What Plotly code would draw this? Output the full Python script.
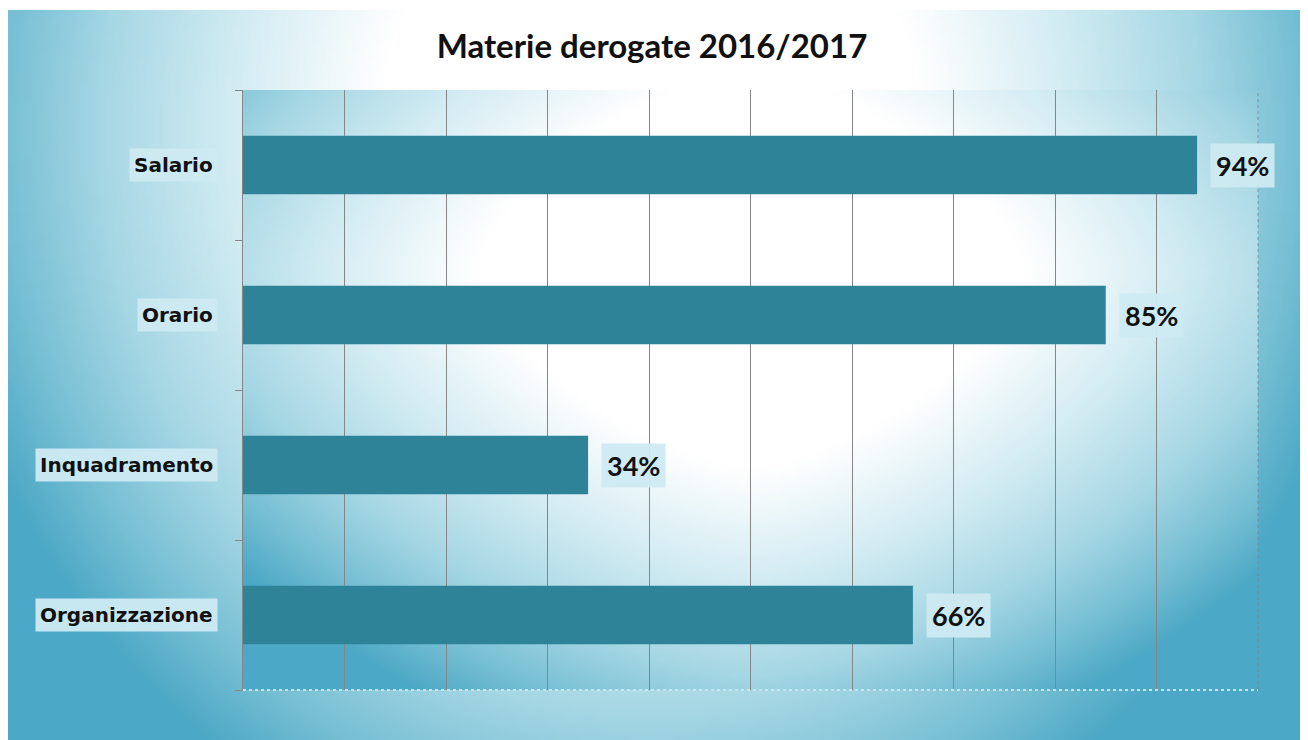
import base64, struct, zlib
import numpy as np
import plotly.graph_objects as go

# ---- data ----
categories = ["Salario", "Orario", "Inquadramento", "Organizzazione"]
values = [94, 85, 34, 66]
value_labels = ["94%", "85%", "34%", "66%"]
title_text = "Materie derogate 2016/2017"

# ---- gradient background helper (styling only) ----
def png_data_uri(rgb):
    h, w, _ = rgb.shape
    raw = b"".join(b"\x00" + rgb[i].astype(np.uint8).tobytes() for i in range(h))
    def chunk(tag, data):
        c = struct.pack(">I", len(data)) + tag + data
        return c + struct.pack(">I", zlib.crc32(tag + data) & 0xffffffff)
    png = b"\x89PNG\r\n\x1a\n" + chunk(b"IHDR", struct.pack(">IIBBBBB", w, h, 8, 2, 0, 0, 0)) \
        + chunk(b"IDAT", zlib.compress(raw, 9)) + chunk(b"IEND", b"")
    return "data:image/png;base64," + base64.b64encode(png).decode()

stop_t = [0.0, 0.42, 0.65, 0.85, 1.0, 1.12]
stop_c = [(255, 255, 255), (255, 255, 255), (210, 236, 243), (165, 215, 228), (118, 191, 212), (75, 168, 198)]

def gradient(w, h, cx, cy, rx, ry, p):
    u = (np.arange(w) + 0.5) / w
    v = (np.arange(h) + 0.5) / h
    U, V = np.meshgrid(u, v)
    t = (np.abs((U - cx) / rx) ** p + np.abs((V - cy) / ry) ** p) ** (1 / p)
    out = np.zeros((h, w, 3))
    for k in range(3):
        out[..., k] = np.interp(t, stop_t, [c[k] for c in stop_c])
    return np.clip(out, 0, 255)

W, H = 1308, 740
L, R, T, B = 235, 58, 82, 58
pw, ph = W - L - R, H - T - B

# chart area: pixel box (0..1294, 2..740)
cw, ch = 1294, 738
bg_chart = png_data_uri(gradient(324, 185, 643 / cw, 120 / ch, 650 / cw, 690 / ch, 2.0))
bg_plot = png_data_uri(gradient(254, 150, 0.5, 0.3, 0.65, 0.8, 1.5))

fig = go.Figure()
fig.add_trace(go.Bar(
    y=categories, x=values, orientation="h",
    marker=dict(color="#2E8399", line=dict(width=0)),
    hoverinfo="skip",
))

annotations = []
for c, v, lab in zip(categories, values, value_labels):
    annotations.append(dict(
        x=v, y=c, xref="x", yref="y", text=lab, showarrow=False,
        xanchor="left", xshift=13,
        font=dict(family="Lato", size=27, color="#111111", weight="bold"),
        bgcolor="rgba(205,234,242,0.95)", borderpad=5,
    ))
    annotations.append(dict(
        x=0, y=c, xref="paper", yref="y", text=c, showarrow=False,
        xanchor="right", xshift=-25,
        font=dict(family="DejaVu Sans", size=20, color="#111111", weight="bold"),
        bgcolor="rgba(205,234,242,0.95)", borderpad=4,
    ))

fig.update_layout(
    width=W, height=H,
    margin=dict(l=L, r=R, t=T, b=B),
    paper_bgcolor="white",
    plot_bgcolor="rgba(0,0,0,0)",
    showlegend=False,
    bargap=0.61,
    title=dict(text=title_text, x=(652 - 8) / W, xanchor="center", y=1 - 38 / H, yanchor="middle",
               font=dict(family="Lato", size=33, color="#111111", weight="bold")),
    xaxis=dict(range=[0, 100], dtick=10, showgrid=True, gridcolor="#868686", gridwidth=1,
               showticklabels=False, zeroline=False, showline=False, ticks=""),
    yaxis=dict(categoryorder="array", categoryarray=categories[::-1],
               showticklabels=False, showline=True, linecolor="#868686", linewidth=1,
               ticks="outside", ticklen=7, tickcolor="#868686", tickson="boundaries",
               showgrid=False, zeroline=False),
    annotations=annotations,
    images=[
        dict(source=bg_chart, xref="paper", yref="paper",
             x=(0 - L) / pw, y=(H - B - 2) / ph, sizex=cw / pw, sizey=ch / ph,
             xanchor="left", yanchor="top", sizing="stretch", layer="below"),
        dict(source=bg_plot, xref="paper", yref="paper",
             x=0, y=1, sizex=1, sizey=1,
             xanchor="left", yanchor="top", sizing="stretch", layer="below"),
    ],
    shapes=[
        dict(type="line", xref="paper", yref="paper", x0=0, x1=1, y0=0, y1=0,
             line=dict(color="rgba(205,230,238,0.95)", width=2, dash="dot")),
        dict(type="line", xref="paper", yref="paper", x0=1, x1=1, y0=0, y1=1,
             line=dict(color="rgba(130,130,130,0.8)", width=1, dash="dot")),
    ],
)

fig.write_html("out.html")
